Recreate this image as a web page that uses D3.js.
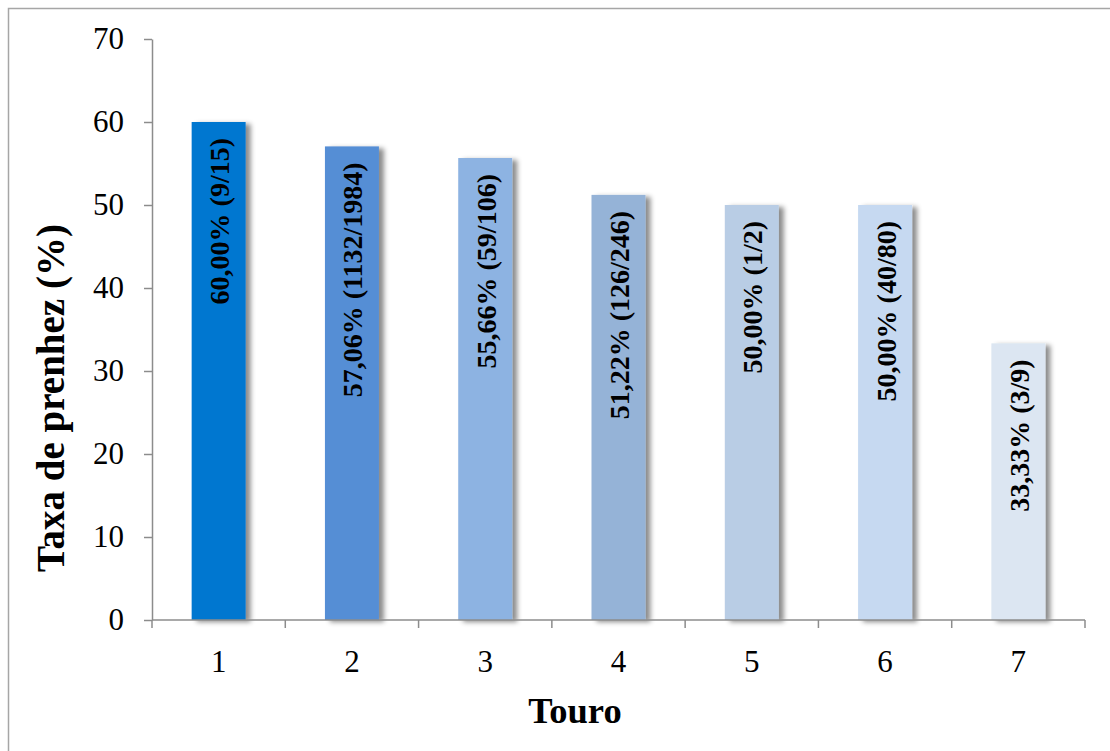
<!DOCTYPE html>
<html>
<head>
<meta charset="utf-8">
<script src="https://cdn.jsdelivr.net/npm/d3@7"></script>
<style>
  body { margin: 0; background: #fff; }
  svg text { font-family: "Times New Roman", "Liberation Serif", Times, "DejaVu Serif", serif !important; }
</style>
</head>
<body>
<svg id="canvas"></svg>
<script>
const touros = ["1", "2", "3", "4", "5", "6", "7"];
const taxas = [60.00, 57.06, 55.66, 51.22, 50.00, 50.00, 33.33];
const rotulos = ["60,00% (9/15)", "57,06% (1132/1984)", "55,66% (59/106)", "51,22% (126/246)",
                 "50,00% (1/2)", "50,00% (40/80)", "33,33% (3/9)"];
const cores = ["#0077d0", "#558ed5", "#8db3e2", "#95b3d7", "#b9cde5", "#c6d9f1", "#dce6f2"];
const yTicks = [0, 10, 20, 30, 40, 50, 60, 70];

const width = 1110;
const height = 751;
const margin = { top: 39, right: 25, bottom: 131, left: 152 };
const innerWidth = width - margin.left - margin.right;
const innerHeight = height - margin.top - margin.bottom;

const svg = d3.select("#canvas")
    .attr("width", width)
    .attr("height", height);

// outer chart frame (right/bottom fall outside the picture)
svg.append("rect")
    .attr("x", 8.5).attr("y", 8.5)
    .attr("width", width + 20).attr("height", height + 20)
    .attr("fill", "#fff")
    .attr("stroke", "#a6a6a6")
    .attr("stroke-width", 1.5);

const defs = svg.append("defs");
const shadow = defs.append("filter").attr("id", "shadow")
    .attr("x", "-20%").attr("y", "-5%").attr("width", "160%").attr("height", "110%");
shadow.append("feDropShadow")
    .attr("dx", 5).attr("dy", 2)
    .attr("stdDeviation", 2.5)
    .attr("flood-color", "#000")
    .attr("flood-opacity", 0.45);

const g = svg.append("g").attr("transform", `translate(${margin.left}, ${margin.top})`);

const scaleX = d3.scaleBand()
    .domain(touros)
    .range([0, innerWidth])
    .paddingInner(0.595)
    .paddingOuter(0.2975);
const scaleY = d3.scaleLinear()
    .domain([0, 70])
    .range([innerHeight, 0]);

// bars
g.selectAll("rect.bar")
    .data(touros)
    .join("rect")
    .classed("bar", true)
    .attr("x", d => scaleX(d))
    .attr("y", (d, i) => scaleY(taxas[i]))
    .attr("width", scaleX.bandwidth())
    .attr("height", (d, i) => scaleY(0) - scaleY(taxas[i]))
    .attr("fill", (d, i) => cores[i])
    .attr("filter", "url(#shadow)");

// y axis
const axisY = g.append("g")
    .call(d3.axisLeft(scaleY).tickValues(yTicks).tickSize(8).tickSizeOuter(0).tickPadding(20));
axisY.attr("font-family", null);
axisY.select(".domain").attr("stroke", "#8c8c8c").attr("stroke-width", 1.5);
axisY.selectAll(".tick line").attr("stroke", "#8c8c8c").attr("stroke-width", 1.5);
axisY.selectAll(".tick text")
    .attr("font-size", 31)
    .attr("fill", "#000");

// x axis: ticks sit on the band boundaries
const axisX = g.append("g").attr("transform", `translate(0, ${innerHeight})`);
axisX.append("line")
    .attr("x1", 0).attr("x2", innerWidth)
    .attr("stroke", "#8c8c8c").attr("stroke-width", 1.5);
const bounds = touros.map(d => scaleX(d) - scaleX.step() * scaleX.paddingOuter());
bounds.push(innerWidth);
axisX.selectAll("line.tick")
    .data(bounds)
    .join("line")
    .classed("tick", true)
    .attr("x1", d => d).attr("x2", d => d)
    .attr("y1", 0).attr("y2", 8)
    .attr("stroke", "#8c8c8c").attr("stroke-width", 1.5);
axisX.selectAll("text")
    .data(touros)
    .join("text")
    .attr("x", d => scaleX(d) + scaleX.bandwidth() / 2)
    .attr("y", 52)
    .attr("text-anchor", "middle")
    .attr("font-size", 31)
    .text(d => d);

// value labels
g.selectAll("text.rotulo")
    .data(touros)
    .join("text")
    .classed("rotulo", true)
    .attr("transform", (d, i) => `translate(${scaleX(d) + scaleX.bandwidth() / 2 + 1}, ${scaleY(taxas[i]) + 16}) rotate(-90)`)
    .attr("text-anchor", "end")
    .attr("dominant-baseline", "central")
    .attr("font-size", 28)
    .attr("font-weight", "bold")
    .text((d, i) => rotulos[i]);

// axis titles
svg.append("text")
    .attr("x", 575)
    .attr("y", 723)
    .attr("text-anchor", "middle")
    .attr("font-size", 36.5)
    .attr("font-weight", "bold")
    .text("Touro");

svg.append("text")
    .attr("transform", `translate(50, 398) rotate(-90)`)
    .attr("text-anchor", "middle")
    .attr("dominant-baseline", "central")
    .attr("font-size", 39)
    .attr("font-weight", "bold")
    .text("Taxa de prenhez (%)");
</script>
</body>
</html>
